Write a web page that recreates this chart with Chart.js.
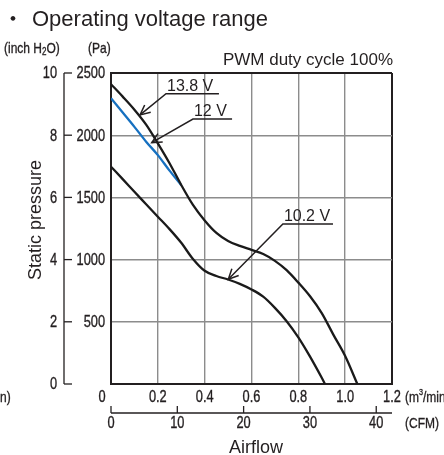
<!DOCTYPE html>
<html><head><meta charset="utf-8">
<script src="https://cdn.jsdelivr.net/npm/chart.js@4.4.1/dist/chart.umd.min.js"></script>
<style>html,body{margin:0;padding:0;background:#fff;}canvas{display:block;}</style>
</head><body>
<canvas id="c" width="444" height="455"></canvas>
<script>
// ---- data ----
const titleText = 'Operating voltage range';
const subtitleText = 'PWM duty cycle 100%';
const xTicksM3 = [0, 0.2, 0.4, 0.6, 0.8, 1.0, 1.2];
const xTicksCfm = [0, 10, 20, 30, 40];
const yTicksPa = [0, 500, 1000, 1500, 2000, 2500];
const yTicksInch = [0, 2, 4, 6, 8, 10];

const flow138 = [0, 0.05, 0.1, 0.15, 0.2, 0.25, 0.3, 0.35, 0.4, 0.45, 0.5, 0.55, 0.6, 0.65, 0.7, 0.75, 0.8, 0.85, 0.9, 0.95, 1.0, 1.052];
const pres138 = [2410, 2310, 2205, 2085, 1935, 1775, 1600, 1440, 1315, 1215, 1150, 1110, 1078, 1045, 990, 915, 815, 705, 570, 395, 225, 0];

const flow12 = [0, 0.05, 0.1, 0.15, 0.2, 0.25, 0.3];
const pres12 = [2297, 2182, 2067, 1948, 1840, 1715, 1598];

const flow102 = [0, 0.05, 0.1, 0.15, 0.2, 0.25, 0.3, 0.35, 0.4, 0.45, 0.5, 0.55, 0.6, 0.65, 0.7, 0.75, 0.8, 0.85, 0.9, 0.914];
const pres102 = [1747, 1647, 1545, 1445, 1345, 1245, 1135, 1005, 910, 868, 840, 805, 760, 702, 612, 505, 375, 220, 50, 0];

const seriesLabels = ['13.8 V', '12 V', '10.2 V'];
const CFM_PER_M3MIN = 1 / 0.0283168;

// annotation leader anchors (in data units)
const notes = [
  { label: '13.8 V', tip: [0.124, 2163], elbow: [0.235, 2334], end: 0.461 },
  { label: '12 V',   tip: [0.174, 1940], elbow: [0.35, 2130],  end: 0.517 },
  { label: '10.2 V', tip: [0.501, 842],  elbow: [0.734, 1286], end: 0.948 }
];

// ---- styles ----
const SANS = "'Liberation Sans', Arial, sans-serif";
const INK = '#231f20';
const GRID = '#8c8c8c';
const SX = 0.8; // condensed text squeeze

const toXY = (xs, ys) => xs.map((v, i) => ({ x: v, y: ys[i] }));
const near = (a, b) => Math.abs(a - b) < 1e-6;

function condText(ctx, s, x, y, align, size) {
  ctx.save();
  ctx.font = (size || 16) + 'px ' + SANS;
  ctx.textBaseline = 'middle';
  ctx.textAlign = 'left';
  const w = ctx.measureText(s).width * SX;
  const left = align === 'right' ? x - w : align === 'center' ? x - w / 2 : x;
  ctx.translate(left, y);
  ctx.scale(SX, 1);
  ctx.fillText(s, 0, 0);
  ctx.lineWidth = 0.35;
  ctx.strokeStyle = INK;
  ctx.strokeText(s, 0, 0);
  ctx.restore();
  return w;
}

const deco = {
  id: 'deco',
  afterDraw(chart) {
    const { ctx } = chart;
    const { x, y, yIn, xCfm } = chart.scales;
    ctx.save();
    ctx.fillStyle = INK;
    ctx.strokeStyle = INK;

    // title
    ctx.font = "22px 'Noto Sans CJK JP', sans-serif";
    ctx.textBaseline = 'alphabetic';
    ctx.textAlign = 'left';
    ctx.fillText('・', 2, 26);
    ctx.font = '22px ' + SANS;
    ctx.fillText(titleText, 32, 26);

    ctx.font = '17px ' + SANS;
    ctx.textAlign = 'right';
    ctx.fillText(subtitleText, 393, 65);

    // unit labels
    let px = 4;
    px += condText(ctx, '(inch H', px, 49, 'left', 15);
    px += condText(ctx, '2', px, 52, 'left', 10);
    condText(ctx, 'O)', px, 49, 'left', 15);
    condText(ctx, '(Pa)', 88, 49, 'left', 15);

    // Pa tick labels
    yTicksPa.forEach(v => {
      if (v === 0) return;
      condText(ctx, String(v), 105, y.getPixelForValue(v) + 1, 'right', 16);
    });

    // inch H2O axis
    const ax = 64;
    ctx.lineWidth = 1.3;
    ctx.beginPath();
    ctx.moveTo(ax, yIn.getPixelForValue(10));
    ctx.lineTo(ax, yIn.getPixelForValue(0));
    ctx.stroke();
    yTicksInch.forEach(v => {
      const py = yIn.getPixelForValue(v);
      ctx.beginPath(); ctx.moveTo(ax, py); ctx.lineTo(ax + 8, py); ctx.stroke();
      condText(ctx, String(v), 57, py + 1, 'right', 16);
    });

    // y axis title
    ctx.save();
    ctx.translate(36, 220);
    ctx.rotate(-Math.PI / 2);
    ctx.font = '18px ' + SANS;
    ctx.textAlign = 'center';
    ctx.textBaseline = 'middle';
    ctx.fillText('Static pressure', 0, 0);
    ctx.restore();

    // m3/min tick labels
    xTicksM3.forEach(v => {
      const lx = x.getPixelForValue(v) - (v === 0 ? 9 : 0);
      condText(ctx, v === 0 ? '0' : v.toFixed(1), lx, 398, 'center', 16);
    });
    px = 405;
    px += condText(ctx, '(m', px, 398, 'left', 15);
    px += condText(ctx, '3', px, 393, 'left', 9);
    condText(ctx, '/min)', px, 398, 'left', 15);
    condText(ctx, 'n)', 0, 398, 'left', 15);

    // CFM axis
    const cy = 413;
    ctx.lineWidth = 1.3;
    ctx.beginPath();
    ctx.moveTo(xCfm.getPixelForValue(0), cy);
    ctx.lineTo(x.getPixelForValue(1.2), cy);
    ctx.stroke();
    xTicksCfm.forEach(v => {
      const pxv = xCfm.getPixelForValue(v);
      ctx.beginPath(); ctx.moveTo(pxv, cy); ctx.lineTo(pxv, cy - 7); ctx.stroke();
      condText(ctx, String(v), pxv, 424, 'center', 16);
    });
    condText(ctx, '(CFM)', 405, 424, 'left', 15);

    ctx.font = '18px ' + SANS;
    ctx.textAlign = 'center';
    ctx.textBaseline = 'alphabetic';
    ctx.fillText('Airflow', 256, 453);

    // annotations
    ctx.lineWidth = 1.5;
    notes.forEach(n => {
      const tx = x.getPixelForValue(n.tip[0]), ty = y.getPixelForValue(n.tip[1]);
      const ex = x.getPixelForValue(n.elbow[0]), ey = y.getPixelForValue(n.elbow[1]);
      const endx = x.getPixelForValue(n.end);
      ctx.beginPath();
      ctx.moveTo(endx, ey); ctx.lineTo(ex, ey); ctx.lineTo(tx, ty);
      ctx.stroke();
      const ang = Math.atan2(ty - ey, tx - ex);
      const L = 11, a = 0.45;
      ctx.beginPath();
      ctx.moveTo(tx - L * Math.cos(ang - a), ty - L * Math.sin(ang - a));
      ctx.lineTo(tx, ty);
      ctx.lineTo(tx - L * Math.cos(ang + a), ty - L * Math.sin(ang + a));
      ctx.stroke();
      ctx.font = '16px ' + SANS;
      ctx.textAlign = 'left';
      ctx.textBaseline = 'alphabetic';
      ctx.fillText(n.label, ex + 1, ey - 3);
    });
    ctx.restore();
  }
};

const edgeColor = (max) => c => (c.tick && (near(c.tick.value, 0) || near(c.tick.value, max))) ? INK : GRID;
const edgeWidth = (max) => c => (c.tick && (near(c.tick.value, 0) || near(c.tick.value, max))) ? 2 : 1.4;

new Chart(document.getElementById('c'), {
  type: 'line',
  data: {
    datasets: [
      { label: seriesLabels[0], data: toXY(flow138, pres138), borderColor: '#1a1a1a', borderWidth: 2.3, order: 1 },
      { label: seriesLabels[1], data: toXY(flow12, pres12), borderColor: '#1670c0', borderWidth: 2.3, order: 2 },
      { label: seriesLabels[2], data: toXY(flow102, pres102), borderColor: '#1a1a1a', borderWidth: 2.3, order: 1 }
    ]
  },
  options: {
    responsive: false,
    devicePixelRatio: 1,
    animation: false,
    elements: { point: { radius: 0 }, line: { cubicInterpolationMode: 'monotone', fill: false } },
    layout: { padding: { top: 73, right: 52, left: 0, bottom: 0 } },
    plugins: { legend: { display: false }, tooltip: { enabled: false }, title: { display: false } },
    scales: {
      x: {
        type: 'linear', min: 0, max: 1.2, position: 'bottom',
        afterBuildTicks: s => { s.ticks = xTicksM3.map(v => ({ value: v })); },
        afterFit: s => { s.height = 71; },
        border: { display: true, color: INK, width: 2 },
        grid: { color: edgeColor(1.2), lineWidth: edgeWidth(1.2), drawTicks: false },
        ticks: { display: false }
      },
      y: {
        type: 'linear', min: 0, max: 2500, position: 'left',
        afterBuildTicks: s => { s.ticks = yTicksPa.map(v => ({ value: v })); },
        afterFit: s => { s.width = 111; },
        border: { display: true, color: INK, width: 2 },
        grid: { color: edgeColor(2500), lineWidth: edgeWidth(2500), drawTicks: false },
        ticks: { display: false }
      },
      yIn: { type: 'linear', min: 0, max: 10, position: 'left', display: false },
      xCfm: { type: 'linear', min: 0, max: 1.2 * CFM_PER_M3MIN, position: 'bottom', display: false }
    }
  },
  plugins: [deco]
});
</script>
</body></html>
